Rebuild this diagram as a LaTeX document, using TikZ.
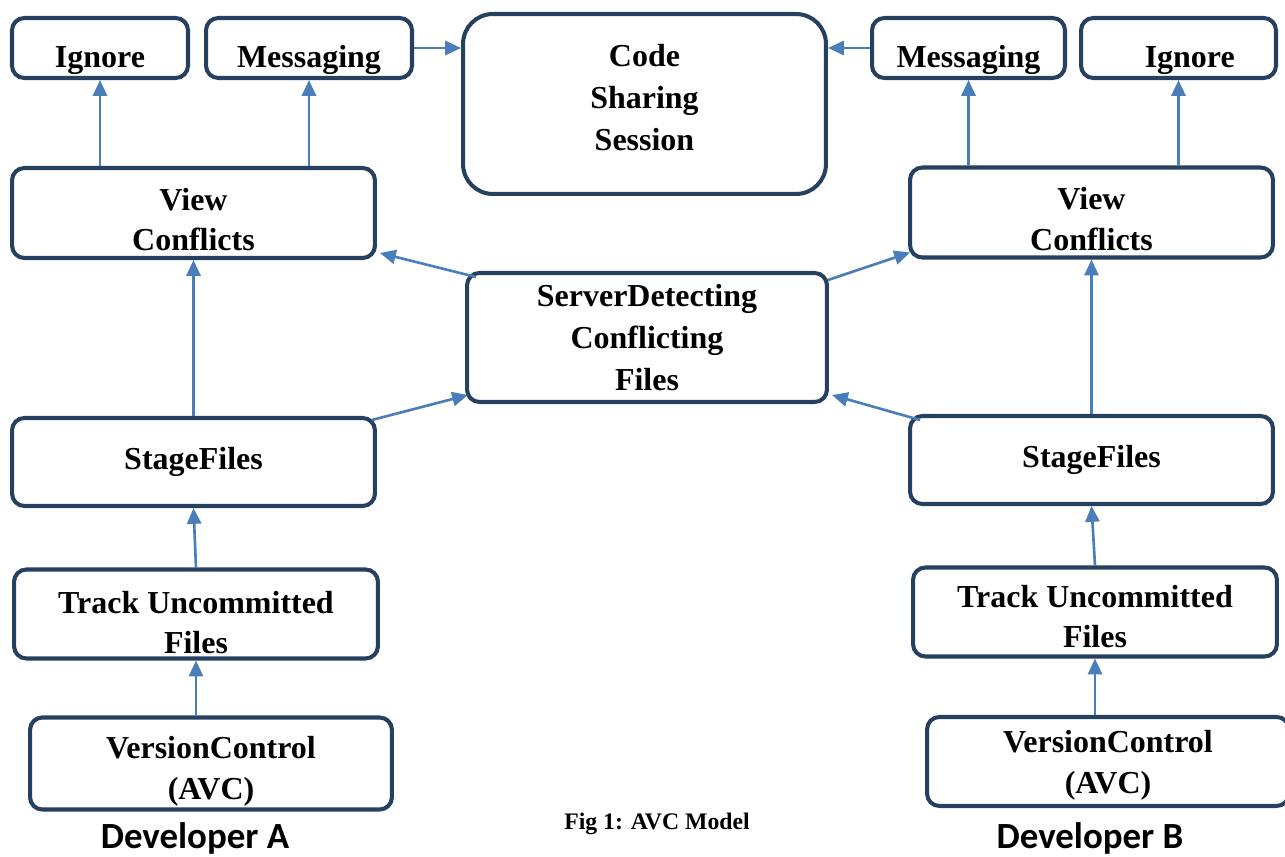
\documentclass[tikz,border=0pt]{standalone}
\usepackage{fontspec}
\setmainfont{Liberation Serif}
\newfontfamily\devfont{Carlito}
\usetikzlibrary{arrows.meta,calc}
\definecolor{boxline}{HTML}{26405F}
\definecolor{arrowblue}{HTML}{4A7EBB}
% taller first line pushes the text down in its box
\newcommand\dropline[1]{\rule{0pt}{#1}}

\begin{document}
\begin{tikzpicture}[x=0.02cm,y=-0.02cm,
	box/.style={draw=boxline, line width=2.3pt, rounded corners=7pt, align=center,
		font=\fontsize{18.2}{23}\selectfont\bfseries, inner sep=2pt},
	topbox/.style={box, minimum height=1.2cm, text height=22pt, text depth=0pt},
	stepbox/.style={box, minimum width=7.26cm, minimum height=1.78cm},
	textlift/.style={execute at end node={\rule[-#1]{0pt}{0pt}}},
	link/.style={draw=arrowblue, line width=1.5pt, -{Triangle[length=9pt,width=8pt]}}]
	\useasboundingbox (0,0) rectangle (1285,857);
	% top row
	\node[topbox, minimum width=3.52cm] (ignA) at (100,48) {Ignore};
	\node[topbox, minimum width=4.12cm] (msgA) at (309,48) {Messaging};
	\node[box, minimum width=7.26cm, minimum height=3.6cm, rounded corners=17pt,
		font=\fontsize{18.2}{24}\selectfont\bfseries, textlift=7.4pt] (code) at (644.5,104) {Code\\Sharing\\Session};
	\node[topbox, minimum width=3.86cm] (msgB) at (968.5,48) {Messaging};
	\node[topbox, minimum width=3.9cm] (ignB) at (1178.5,48) {\hspace*{0.45cm}Ignore};
	% developer A
	\node[stepbox, minimum height=1.8cm] (viewA) at (193.5,213) {\dropline{20pt}View\\Conflicts};
	\node[stepbox, minimum height=1.76cm] (stageA) at (193.5,462) {StageFiles};
	\node[stepbox, minimum width=7.28cm] (trackA) at (196,614) {\dropline{22.6pt}Track Uncommitted\\Files};
	\node[stepbox, minimum width=7.24cm] (vcA) at (211,763.5) {\dropline{21.5pt}VersionControl\\(AVC)};
	% server
	\node[box, minimum width=7.2cm, minimum height=2.58cm,
		font=\fontsize{18.2}{24}\selectfont\bfseries] (server) at (647,337.5) {ServerDetecting\\Conflicting\\Files};
	% developer B
	\node[stepbox, minimum height=1.8cm] (viewB) at (1091.5,212.5) {\dropline{20pt}View\\Conflicts};
	\node[stepbox, minimum height=1.76cm] (stageB) at (1091.5,460) {StageFiles};
	\node[stepbox, minimum width=7.28cm] (trackB) at (1095,612) {\dropline{18pt}Track Uncommitted\\Files};
	\node[stepbox, minimum width=7.24cm] (vcB) at (1108,761.5) {\dropline{17pt}VersionControl\\(AVC)};
	% labels
	\node[anchor=base, font=\devfont\fontsize{21}{25}\selectfont\bfseries] (devA) at (195,848) {Developer A};
	\node[anchor=base, font=\devfont\fontsize{21}{25}\selectfont\bfseries] (devB) at (1090,848) {Developer B};
	\node[anchor=base, font=\fontsize{13.5}{16}\selectfont\bfseries] (caption) at (657,829) {Fig 1: AVC Model};
	% arrows
	\draw[link] (ignA.south |- viewA.north) -- (ignA.south);
	\draw[link] (msgA.south |- viewA.north) -- (msgA.south);
	\draw[link] (msgA.east) -- (code.west |- msgA.east);
	\draw[link] (msgB.west) -- (code.east |- msgB.west);
	\draw[link] (msgB.south |- viewB.north) -- (msgB.south);
	\draw[link] (ignB.south |- viewB.north) -- (ignB.south);
	\draw[link] ($(server.north west)+(11,6)$) -- ($(viewA.south east)+(3,-7)$);
	\draw[link] ($(server.north east)+(-1,9)$) -- ($(viewB.south west)+(2,-7)$);
	\draw[link] (stageA.north) -- (viewA.south);
	\draw[link] (stageB.north) -- (viewB.south);
	\draw[link] ($(stageA.north east)+(-5,4)$) -- ($(server.south west)+(3,-9)$);
	\draw[link] ($(stageB.north west)+(12,6)$) -- ($(server.south east)+(3,-9)$);
	\draw[link] (trackA.north) -- (stageA.south);
	\draw[link] (trackB.north) -- (stageB.south);
	\draw[link] (vcA.north -| trackA.south) -- (trackA.south);
	\draw[link] (vcB.north -| trackB.south) -- (trackB.south);
\end{tikzpicture}
\end{document}
